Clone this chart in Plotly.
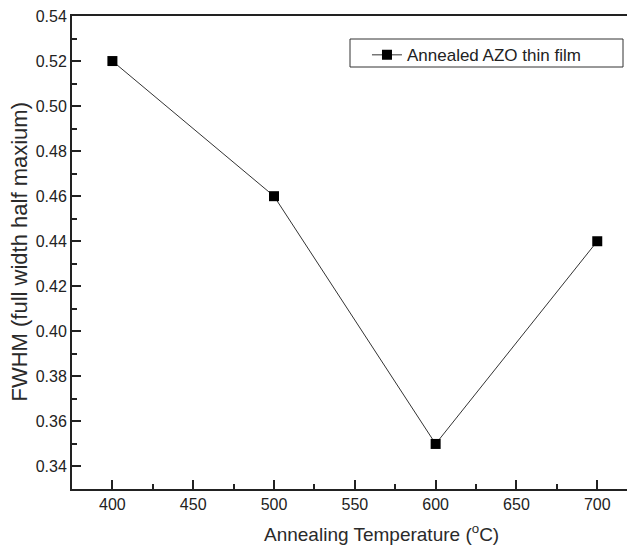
import plotly.graph_objects as go

temps = [400, 500, 600, 700]
fwhm = [0.52, 0.46, 0.35, 0.44]
series_name = "Annealed AZO thin film"
x_title = "Annealing Temperature (<sup>o</sup>C)"
y_title = "FWHM (full width half maxium)"

fig = go.Figure()
fig.add_trace(go.Scatter(
    x=temps, y=fwhm, mode="lines+markers", name=series_name,
    line=dict(color="#333333", width=1),
    marker=dict(symbol="square", size=10, color="black"),
))

font_family = "Liberation Sans, Arial, sans-serif"
fig.update_layout(
    width=627, height=547,
    margin=dict(l=72, r=0, t=16, b=58, autoexpand=False),
    paper_bgcolor="white", plot_bgcolor="white",
    font=dict(family=font_family, size=16, color="#222222"),
    showlegend=True,
    legend=dict(x=0.5315, y=0.955, xanchor="left", yanchor="top",
                borderwidth=0, bgcolor="rgba(0,0,0,0)",
                font=dict(size=17), itemwidth=30),
    shapes=[dict(type="rect", xref="paper", yref="paper",
                 x0=(350 - 72) / 555, x1=(623 - 72) / 555,
                 y0=(489 - 67) / 473, y1=(489 - 39) / 473,
                 line=dict(color="#333333", width=1), fillcolor="rgba(0,0,0,0)")],
    annotations=[
        dict(text=x_title, xref="paper", yref="paper", x=(381.5 - 72) / 555, y=(489 - 547) / 473,
             xanchor="center", yanchor="bottom", showarrow=False, font=dict(size=19, color="#2a2a2a")),
        dict(text=y_title, xref="paper", yref="paper", x=(19 - 72) / 555, y=0.5, textangle=-90,
             xanchor="center", yanchor="middle", showarrow=False, font=dict(size=22, color="#2a2a2a")),
    ],
    xaxis=dict(
        range=[375, 718.4], tickvals=[400, 450, 500, 550, 600, 650, 700],
        automargin=False,
        ticks="inside", ticklen=9, tickwidth=2, tickcolor="#222222",
        minor=dict(ticks="inside", ticklen=5, tickwidth=2, tickcolor="#222222", dtick=25),
        showline=True, linecolor="#222222", linewidth=2, mirror=True,
        showgrid=False, zeroline=False,
    ),
    yaxis=dict(
        range=[0.33, 0.54], tickvals=[0.34, 0.36, 0.38, 0.40, 0.42, 0.44, 0.46, 0.48, 0.50, 0.52, 0.54],
        tickformat=".2f", automargin=False,
        ticks="inside", ticklen=9, tickwidth=2, tickcolor="#222222",
        minor=dict(ticks="inside", ticklen=5, tickwidth=2, tickcolor="#222222", dtick=0.01),
        showline=True, linecolor="#222222", linewidth=2,
        showgrid=False, zeroline=False,
    ),
)
fig.write_html("out.html", config={"displayModeBar": False},
               post_script="document.body.style.margin='0';document.body.style.overflow='hidden';")
